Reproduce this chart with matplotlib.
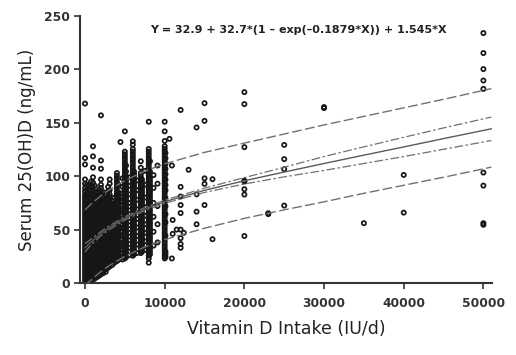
import numpy as np
import matplotlib.pyplot as plt

# serum 25(OH)D (ng/mL) per reported intake (IU/d), 0 - 3400 IU/d block
low_dose_cols = {
    0: [0.5, 3, 5.5, 8, 10.5, 13, 15.5, 18, 20.5, 23, 25.5, 28, 30.5, 33, 35.5, 38, 40.5, 43, 45.5, 48,
        50.5, 53, 55.5, 58, 60.5, 63, 65.5, 68, 70.5, 73, 75.5, 78, 80.5, 83, 86, 89, 93, 97, 111, 117, 168],
    250: [1.8, 4.3, 6.8, 9.3, 11.8, 14.3, 16.8, 19.3, 21.8, 24.3, 26.8, 29.3, 31.8, 34.3, 36.8, 39.3,
          41.8, 44.3, 46.8, 49.3, 51.8, 54.3, 56.8, 59.3, 61.8, 64.3, 66.8, 69.3, 71.8, 74.3, 76.8,
          79.3, 81.8, 84.3, 88, 92],
    500: [3, 5.5, 8, 10.5, 13, 15.5, 18, 20.5, 23, 25.5, 28, 30.5, 33, 35.5, 38, 40.5, 43, 45.5, 48,
          50.5, 53, 55.5, 58, 60.5, 63, 65.5, 68, 70.5, 73, 75.5, 78, 80.5, 83, 87, 91],
    750: [4.3, 6.8, 9.3, 11.8, 14.3, 16.8, 19.3, 21.8, 24.3, 26.8, 29.3, 31.8, 34.3, 36.8, 39.3, 41.8,
          44.3, 46.8, 49.3, 51.8, 54.3, 56.8, 59.3, 61.8, 64.3, 66.8, 69.3, 71.8, 74.3, 76.8, 79.3,
          81.8, 84.3, 89, 95],
    1000: [3, 5.5, 8, 10.5, 13, 15.5, 18, 20.5, 23, 25.5, 28, 30.5, 33, 35.5, 38, 40.5, 43, 45.5, 48,
           50.5, 53, 55.5, 58, 60.5, 63, 65.5, 68, 70.5, 73, 75.5, 78, 80.5, 83, 86, 90, 94, 99, 108,
           118.6, 128],
    1250: [4.3, 6.8, 9.3, 11.8, 14.3, 16.8, 19.3, 21.8, 24.3, 26.8, 29.3, 31.8, 34.3, 36.8, 39.3,
           41.8, 44.3, 46.8, 49.3, 51.8, 54.3, 56.8, 59.3, 61.8, 64.3, 66.8, 69.3, 71.8, 74.3, 76.8,
           79.3, 81.8, 85, 91],
    1500: [5.5, 8, 10.5, 13, 15.5, 18, 20.5, 23, 25.5, 28, 30.5, 33, 35.5, 38, 40.5, 43, 45.5, 48,
           50.5, 53, 55.5, 58, 60.5, 63, 65.5, 68, 70.5, 73, 75.5, 78, 80.5, 85],
    1750: [6.8, 9.3, 11.8, 14.3, 16.8, 19.3, 21.8, 24.3, 26.8, 29.3, 31.8, 34.3, 36.8, 39.3, 41.8,
           44.3, 46.8, 49.3, 51.8, 54.3, 56.8, 59.3, 61.8, 64.3, 66.8, 69.3, 71.8, 74.3, 76.8, 79.3,
           81.8, 87],
    2000: [8, 10.5, 13, 15.5, 18, 20.5, 23, 25.5, 28, 30.5, 33, 35.5, 38, 40.5, 43, 45.5, 48, 50.5,
           53, 55.5, 58, 60.5, 63, 65.5, 68, 70.5, 73, 75.5, 78, 80.5, 83, 86, 89, 92, 97, 107, 114.7,
           157],
    2300: [9.3, 11.8, 14.3, 16.8, 19.3, 21.8, 24.3, 26.8, 29.3, 31.8, 34.3, 36.8, 39.3, 41.8, 44.3,
           46.8, 49.3, 51.8, 54.3, 56.8, 59.3, 61.8, 64.3, 66.8, 69.3, 71.8, 74.3, 76.8, 79.3, 85],
    2600: [10.5, 13, 15.5, 18, 20.5, 23, 25.5, 28, 30.5, 33, 35.5, 38, 40.5, 43, 45.5, 48, 50.5, 53,
           55.5, 58, 60.5, 63, 65.5, 68, 70.5, 73, 75.5, 78, 83],
    2900: [14.3, 16.8, 19.3, 21.8, 24.3, 26.8, 29.3, 31.8, 34.3, 36.8, 39.3, 41.8, 44.3, 46.8, 49.3,
           51.8, 54.3, 56.8, 59.3, 61.8, 64.3, 66.8, 69.3, 71.8, 74.3, 76.8, 79.3, 81.8, 86, 90],
    3100: [15.5, 18, 20.5, 23, 25.5, 28, 30.5, 33, 35.5, 38, 40.5, 43, 45.5, 48, 50.5, 53, 55.5, 58,
           60.5, 63, 65.5, 68, 70.5, 73, 75.5, 78, 80.5, 83, 87, 93, 97],
    3400: [16.8, 19.3, 21.8, 24.3, 26.8, 29.3, 31.8, 34.3, 36.8, 39.3, 41.8, 44.3, 46.8, 49.3, 51.8,
           54.3, 56.8, 59.3, 61.8, 64.3, 66.8, 69.3, 71.8, 74.3, 76.8],
}

# 3700 - 10100 IU/d block
mid_dose_cols = {
    3700: [19, 25, 31, 37, 43, 49, 55, 61, 67, 73, 80],
    4000: [20.5, 23, 25.5, 28, 30.5, 33, 35.5, 38, 40.5, 43, 45.5, 48, 50.5, 53, 55.5, 58, 60.5, 63,
           65.5, 68, 70.5, 73, 75.5, 78, 80.5, 83, 85.5, 88, 90.5, 93, 95.5, 98, 100.5, 103],
    4200: [21.8, 24.3, 26.8, 29.3, 31.8, 34.3, 36.8, 39.3, 41.8, 44.3, 46.8, 49.3, 51.8, 54.3, 56.8,
           59.3, 61.8, 64.3, 66.8, 69.3, 71.8, 74.3, 76.8, 79.3, 81.8, 84.3, 92],
    4450: [24, 31, 38, 45, 52, 60, 68, 76, 84, 132],
    4700: [22, 28, 36, 44, 51, 58, 66, 73, 81, 90, 98],
    5000: [23, 25.5, 28, 30.5, 33, 35.5, 38, 40.5, 43, 45.5, 48, 50.5, 53, 55.5, 58, 60.5, 63, 65.5,
           68, 70.5, 73, 75.5, 78, 80.5, 83, 85.5, 88, 90.5, 93, 95.5, 98, 100.5, 103, 105.5, 108,
           110.5, 113, 115.5, 118, 120.5, 123, 142],
    5150: [24.3, 26.8, 29.3, 31.8, 34.3, 36.8, 39.3, 41.8, 44.3, 46.8, 49.3, 51.8, 54.3, 56.8, 59.3,
           61.8, 64.3, 66.8, 69.3, 71.8, 74.3, 76.8, 79.3, 81.8, 84.3, 86.8, 89.3, 91.8, 94.3, 96.8,
           99.3, 104.3, 110],
    5500: [26, 33, 40, 47, 54, 61, 68, 75, 83, 91, 99],
    6000: [25.5, 28, 30.5, 33, 35.5, 38, 40.5, 43, 45.5, 48, 50.5, 53, 55.5, 58, 60.5, 63, 65.5, 68,
           70.5, 73, 75.5, 78, 80.5, 83, 85.5, 88, 90.5, 93, 95.5, 98, 100.5, 103, 105.5, 108, 110.5,
           113, 115.5, 118, 120.5, 123, 125.5, 129.6, 132.7],
    6150: [26.8, 29.3, 31.8, 34.3, 36.8, 39.3, 41.8, 44.3, 46.8, 49.3, 51.8, 54.3, 56.8, 59.3, 61.8,
           64.3, 66.8, 69.3, 71.8, 74.3, 76.8, 79.3, 81.8, 84.3, 86.8, 89.3, 91.8, 94.3, 96.8, 99.3,
           101.8, 104.3],
    6500: [28, 36, 44, 52, 60, 69, 78, 87, 96],
    7000: [28, 30.5, 33, 35.5, 38, 40.5, 43, 45.5, 48, 50.5, 53, 55.5, 58, 60.5, 63, 65.5, 68, 70.5,
           73, 75.5, 78, 80.5, 83, 85.5, 88, 90.5, 93, 95.5, 98, 100.5, 103, 108, 114],
    7150: [29.3, 31.8, 34.3, 36.8, 39.3, 41.8, 44.3, 46.8, 49.3, 51.8, 54.3, 56.8, 59.3, 61.8, 64.3,
           66.8, 69.3, 71.8, 74.3, 76.8, 79.3, 81.8, 84.3, 86.8, 89.3, 91.8, 94.3, 96.8],
    7500: [31, 39, 47, 55, 63, 71, 80, 92, 105],
    8000: [19, 23, 25.5, 28, 30.5, 33, 35.5, 38, 40.5, 43, 45.5, 48, 50.5, 53, 55.5, 58, 60.5, 63,
           65.5, 68, 70.5, 73, 75.5, 78, 80.5, 83, 85.5, 88, 90.5, 93, 95.5, 98, 100.5, 103, 105.5,
           108, 110.5, 113, 115.5, 118, 120.5, 123, 125.5, 151],
    8150: [26.8, 29.3, 31.8, 34.3, 36.8, 39.3, 41.8, 44.3, 46.8, 49.3, 51.8, 54.3, 56.8, 59.3, 61.8,
           64.3, 66.8, 69.3, 71.8, 74.3, 76.8, 79.3, 81.8, 84.3, 86.8, 89.3, 91.8, 94.3, 96.8, 99.3,
           104.3, 114],
    8600: [35, 48, 62, 75, 89, 101],
    9100: [38, 55, 72, 93, 110],
    10000: [23, 25.5, 28, 30.5, 33, 35.5, 38, 40.5, 43, 45.5, 48, 50.5, 53, 55.5, 58, 60.5, 63, 65.5,
            68, 70.5, 73, 75.5, 78, 80.5, 83, 85.5, 88, 90.5, 93, 95.5, 98, 100.5, 103, 105.5, 108,
            110.5, 113, 115.5, 118, 120.5, 123, 125.5, 128, 133, 142, 151],
    10100: [24.3, 26.8, 29.3, 44.3, 56.8, 64.3, 71.8, 79.3, 86.8, 91.8, 96.8, 101.8, 106.8, 111.8,
            116.8, 121.8],
}

# scattered high-dose points
sparse_iu = [10600, 10900, 11000, 11000, 10900, 11500, 12000, 12000, 12000, 12000, 12000, 12000,
             12000, 12000, 12000, 12400, 13000, 14000, 14000, 14000, 14000, 15000, 15000, 15000,
             15000, 15000, 16000, 16000, 20000, 20000, 20000, 20000, 20000, 20000, 20000, 20000,
             23000, 23000, 25000, 25000, 25000, 25000, 30000, 30000, 35000, 40000, 40000,
             50000, 50000, 50000, 50000, 50000, 50000, 50000, 50000, 50000]
sparse_serum = [135, 110, 59, 46, 23, 50, 162, 90, 81, 73, 65.5, 50, 42, 36.5, 33, 47, 106, 145.6,
                83, 66.8, 55, 168.4, 151.8, 98, 92.8, 73, 97.2, 41, 178.7, 167.5, 127.2, 95.9, 95,
                87.8, 82.8, 44, 65.3, 64.5, 129.3, 116, 106.6, 72.5, 164.7, 163.8, 56, 101.2, 65.9,
                234, 215.3, 200.3, 189.6, 181.8, 103.4, 91.2, 56, 54.5]

# fitted curve and bands, read at these intakes
band_iu = [0, 500, 1000, 2000, 3000, 5000, 7500, 10000, 15000, 20000, 25000, 30000, 35000, 40000,
           45000, 51000]
fit_y = [32.9, 36.6, 40.0, 46.2, 51.6, 60.5, 69.2, 76.1, 86.8, 95.7, 103.9, 111.9, 119.7, 127.4,
         135.2, 144.4]
ci_upper = [36.9, 39.6, 42.5, 48.2, 53.4, 62.0, 70.7, 77.6, 88.8, 98.7, 108.4, 118.4, 127.5, 136.4,
            145.2, 155.4]
ci_lower = [28.9, 33.6, 37.5, 44.2, 49.8, 59.0, 67.7, 74.6, 84.8, 92.7, 99.4, 105.4, 111.9, 118.4,
            125.2, 133.4]
pi_upper = [68.4, 72.1, 75.5, 81.7, 87.1, 96.0, 104.7, 111.6, 122.3, 131.0, 139.5, 148.0, 156.0,
            164.0, 172.0, 182.0]
pi_lower = [-2.6, 1.1, 4.5, 10.7, 16.1, 25.0, 33.7, 40.6, 51.3, 60.5, 68.5, 76.0, 84.0, 91.5,
            99.0, 108.5]

xs, ys = [], []
for cols in (low_dose_cols, mid_dose_cols):
    for dose, vals in cols.items():
        xs += [dose] * len(vals)
        ys += vals
xs += sparse_iu
ys += sparse_serum

fig = plt.figure(figsize=(5.16, 3.55), dpi=100)
ax = fig.add_axes([80 / 516, 72 / 355, 412 / 516, 267 / 355])

ax.scatter(xs, ys, s=9, facecolors='none', edgecolors='#161616', linewidths=1.25, zorder=2)

lc = '#707070'
ax.plot(band_iu, fit_y, color='#5a5a5a', lw=1.0, zorder=3)
ax.plot(band_iu, ci_upper, color=lc, lw=0.9, dashes=(7, 2, 2, 2), zorder=3)
ax.plot(band_iu, ci_lower, color=lc, lw=0.9, dashes=(7, 2, 2, 2), zorder=3)
ax.plot(band_iu, pi_upper, color=lc, lw=1.0, dashes=(7, 2.5), zorder=3)
ax.plot(band_iu, pi_lower, color=lc, lw=1.0, dashes=(7, 2.5), zorder=3)

ax.set_xlim(-630, 51080)
ax.set_ylim(0, 250)
ax.set_xticks([0, 10000, 20000, 30000, 40000, 50000])
ax.set_yticks([0, 50, 100, 150, 200, 250])

for side in ('top', 'right'):
    ax.spines[side].set_visible(False)
for side in ('left', 'bottom'):
    ax.spines[side].set_linewidth(1.5)
    ax.spines[side].set_color('#333333')

ax.tick_params(axis='both', direction='out', length=4.5, width=1.2, color='#333333',
               labelcolor='#333333', labelsize=8.8)
ax.tick_params(axis='x', pad=5.5)
ax.tick_params(axis='y', pad=2.5)
for lab in ax.get_xticklabels() + ax.get_yticklabels():
    lab.set_fontweight('bold')

ax.set_xlabel('Vitamin D Intake (IU/d)', fontsize=12.5, color='#222222', labelpad=7)
ax.set_ylabel('Serum 25(OH)D (ng/mL)', fontsize=12, color='#222222', labelpad=6)

fig.text(298 / 516, 1 - 30 / 355, 'Y = 32.9 + 32.7*(1 – exp(–0.1879*X)) + 1.545*X',
         ha='center', va='center', fontsize=8, fontweight='bold', color='#222222')

fig.savefig('out.png', dpi=100)
